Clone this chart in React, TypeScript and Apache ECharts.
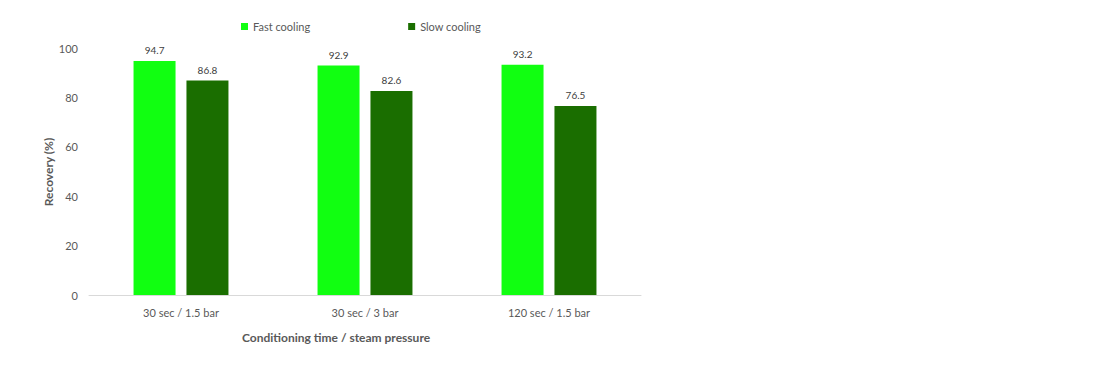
import React, { useEffect, useRef } from "react";
import * as echarts from "echarts";

const categories = ["30 sec / 1.5 bar", "30 sec / 3 bar", "120 sec / 1.5 bar"];
const fastCooling = [94.7, 92.9, 93.2];
const slowCooling = [86.8, 82.6, 76.5];
const yTicks = { min: 0, max: 100, interval: 20 };

const FONT = "Lato, 'Open Sans', sans-serif";

export default function App() {
  const ref = useRef<HTMLDivElement>(null);
  useEffect(() => {
    if (!ref.current) return;
    const chart = echarts.init(ref.current, undefined, { renderer: "svg" });
    chart.setOption({
      animation: false,
      textStyle: { fontFamily: FONT },
      legend: {
        left: 236,
        top: 16,
        itemGap: 98,
        itemWidth: 7,
        itemHeight: 7,
        icon: "rect",
        textStyle: { fontFamily: FONT, fontSize: 11, color: "#595959" },
        data: ["Fast cooling", "Slow cooling"],
      },
      grid: { left: 89, right: 459, top: 48, bottom: 84, containLabel: false },
      xAxis: {
        type: "category",
        data: categories,
        axisLine: { lineStyle: { color: "#d9d9d9" } },
        axisTick: { show: false },
        axisLabel: { color: "#595959", fontSize: 11, margin: 12, fontFamily: FONT },
      },
      yAxis: {
        type: "value",
        min: yTicks.min,
        max: yTicks.max,
        interval: yTicks.interval,
        splitLine: { show: false },
        axisLine: { show: false },
        axisTick: { show: false },
        axisLabel: { color: "#595959", fontSize: 11, margin: 11, fontFamily: FONT },
      },
      graphic: [
        {
          type: "text",
          x: 48,
          y: 172,
          rotation: Math.PI / 2,
          style: {
            text: "Recovery (%)",
            fill: "#595959",
            font: `bold 12px ${FONT}`,
            align: "center",
            verticalAlign: "middle",
          },
        },
        {
          type: "text",
          left: 242,
          top: 331,
          style: {
            text: "Conditioning time / steam pressure",
            fill: "#595959",
            font: `bold 12px ${FONT}`,
          },
        },
      ],
      series: [
        {
          name: "Fast cooling",
          type: "bar",
          data: fastCooling,
          barWidth: 42,
          barGap: "26%",
          itemStyle: { color: "#11FF11" },
          label: { show: true, position: "top", color: "#404040", fontSize: 10, distance: 6, fontFamily: FONT },
        },
        {
          name: "Slow cooling",
          type: "bar",
          data: slowCooling,
          barWidth: 42,
          barGap: "26%",
          itemStyle: { color: "#1A6E00" },
          label: { show: true, position: "top", color: "#404040", fontSize: 10, distance: 6, fontFamily: FONT },
        },
      ],
    });
    return () => chart.dispose();
  }, []);
  return <div ref={ref} style={{ width: 1100, height: 379, position: "absolute", left: 0, top: 0 }} />;
}
